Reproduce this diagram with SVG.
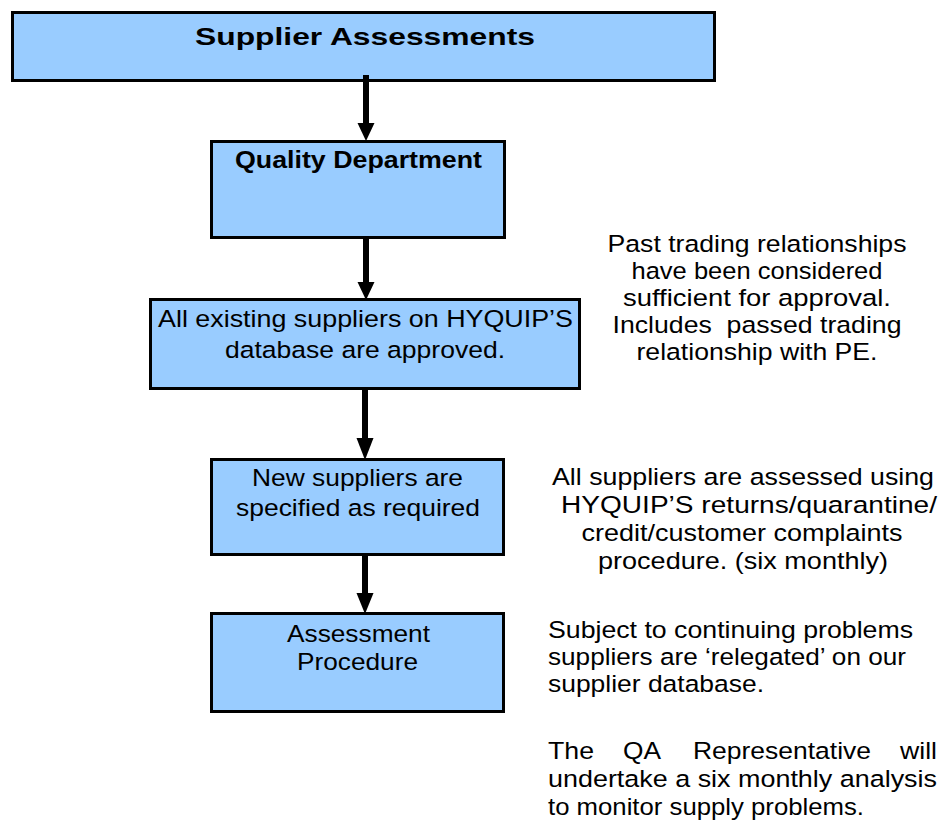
<svg xmlns="http://www.w3.org/2000/svg" width="948" height="820" viewBox="0 0 948 820">
<style>
.box{fill:#99CCFF;stroke:#000;stroke-width:3}
.t{font-family:"Liberation Sans",Arial,sans-serif;font-size:24.5px;fill:#000}
.b{font-weight:bold}
.m{text-anchor:middle}
.arr{fill:#000;stroke:none}
</style>
<rect width="948" height="820" fill="#fff"/>
<g id="node-supplier-assessments">
<rect class="box" x="12.5" y="12.5" width="702" height="68"/>
<text class="t b m" x="365" y="45" font-size="32" textLength="340" lengthAdjust="spacingAndGlyphs">Supplier Assessments</text>
</g>
<g id="node-quality-department">
<rect class="box" x="211.5" y="141.5" width="293" height="96"/>
<text class="t b m" x="358.5" y="168" font-size="25.5" textLength="247" lengthAdjust="spacingAndGlyphs">Quality Department</text>
</g>
<g id="node-existing-suppliers">
<rect class="box" x="150.5" y="299.5" width="429" height="89"/>
<text class="t m" x="365.5" y="327" textLength="415" lengthAdjust="spacingAndGlyphs">All existing suppliers on HYQUIP’S</text>
<text class="t m" x="365" y="358" textLength="280" lengthAdjust="spacingAndGlyphs">database are approved.</text>
</g>
<g id="node-new-suppliers">
<rect class="box" x="211.5" y="459.5" width="292" height="95"/>
<text class="t m" x="357.5" y="486" textLength="211" lengthAdjust="spacingAndGlyphs">New suppliers are</text>
<text class="t m" x="358" y="516" textLength="244" lengthAdjust="spacingAndGlyphs">specified as required</text>
</g>
<g id="node-assessment-procedure">
<rect class="box" x="211.5" y="613.5" width="292" height="98"/>
<text class="t m" x="358.5" y="642" textLength="143" lengthAdjust="spacingAndGlyphs">Assessment</text>
<text class="t m" x="357.5" y="670" textLength="121" lengthAdjust="spacingAndGlyphs">Procedure</text>
</g>
<g id="connectors">
<rect class="arr" x="363" y="75" width="6" height="50"/>
<polygon class="arr" points="357.5,123 374.5,123 366,141"/>
<rect class="arr" x="363" y="239" width="6" height="45"/>
<polygon class="arr" points="357.5,282 374.5,282 366,300"/>
<rect class="arr" x="362" y="390" width="6" height="50"/>
<polygon class="arr" points="356.5,438 373.5,438 365,460"/>
<rect class="arr" x="362" y="556" width="6" height="40"/>
<polygon class="arr" points="356.5,593 373.5,593 365,614"/>
</g>
<g id="note-past-trading">
<text class="t m" x="757" y="252" textLength="299" lengthAdjust="spacingAndGlyphs">Past trading relationships</text>
<text class="t m" x="757" y="279" textLength="251" lengthAdjust="spacingAndGlyphs">have been considered</text>
<text class="t m" x="757" y="306" textLength="268" lengthAdjust="spacingAndGlyphs">sufficient for approval.</text>
<text class="t m" x="757" y="333" textLength="289" lengthAdjust="spacingAndGlyphs" xml:space="preserve">Includes  passed trading</text>
<text class="t m" x="757" y="360" textLength="241" lengthAdjust="spacingAndGlyphs">relationship with PE.</text>
</g>
<g id="note-all-suppliers">
<text class="t m" x="743" y="485" textLength="382" lengthAdjust="spacingAndGlyphs">All suppliers are assessed using</text>
<text class="t m" x="749" y="513" textLength="376" lengthAdjust="spacingAndGlyphs">HYQUIP’S returns/quarantine/</text>
<text class="t m" x="742" y="541" textLength="321" lengthAdjust="spacingAndGlyphs">credit/customer complaints</text>
<text class="t m" x="743" y="569" textLength="290" lengthAdjust="spacingAndGlyphs">procedure. (six monthly)</text>
</g>
<g id="note-relegated">
<text class="t" x="548" y="638" textLength="365" lengthAdjust="spacingAndGlyphs">Subject to continuing problems</text>
<text class="t" x="548" y="665" textLength="358" lengthAdjust="spacingAndGlyphs">suppliers are ‘relegated’ on our</text>
<text class="t" x="548" y="692" textLength="216" lengthAdjust="spacingAndGlyphs">supplier database.</text>
</g>
<g id="note-qa">
<text class="t" x="548" y="759" textLength="46" lengthAdjust="spacingAndGlyphs">The</text>
<text class="t" x="623" y="759" textLength="38" lengthAdjust="spacingAndGlyphs">QA</text>
<text class="t" x="693" y="759" textLength="178" lengthAdjust="spacingAndGlyphs">Representative</text>
<text class="t" x="937" y="759" text-anchor="end" textLength="37" lengthAdjust="spacingAndGlyphs">will</text>
<text class="t" x="548" y="787" textLength="389" lengthAdjust="spacingAndGlyphs">undertake a six monthly analysis</text>
<text class="t" x="548" y="815" textLength="316" lengthAdjust="spacingAndGlyphs">to monitor supply problems.</text>
</g>
</svg>
